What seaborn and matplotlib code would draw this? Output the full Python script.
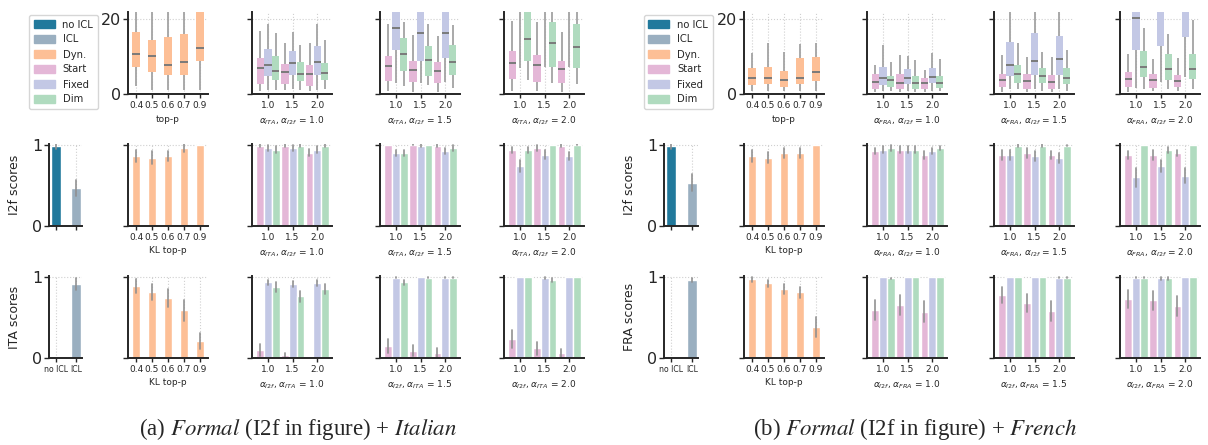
import numpy as np
import pandas as pd
import seaborn as sns
import matplotlib.pyplot as plt
from matplotlib.patches import Patch

# categories
methods = ['Start', 'Fixed', 'Dim']
alphas = ['1.0', '1.5', '2.0']
top_p = ['0.4', '0.5', '0.6', '0.7', '0.9']
icl_labels = ['no ICL', 'ICL']

# box stats: [whisker low, q1, median, q3, whisker high]
ita_box_dyn = [[2.1, 7.3, 10.8, 16.7, 30], [1.2, 6.0, 10.1, 14.6, 30], [1.1, 5.1, 7.9, 15.4, 30],
               [1.1, 5.2, 8.5, 16.0, 30], [1.1, 8.8, 12.4, 24, 35]]
# rows = alpha tick (1.0, 1.5, 2.0), cols = Start, Fixed, Dim
ita_box_a10 = [[[0.9, 2.7, 7.1, 9.6, 17.0], [1.1, 4.8, 7.9, 12.2, 18.9], [1.1, 3.8, 6.3, 10.2, 16.3]],
               [[1.1, 2.7, 6.0, 8.0, 13.8], [1.3, 5.1, 8.2, 11.6, 16.7], [1.1, 3.5, 5.4, 8.7, 13.1]],
               [[0.9, 2.1, 5.4, 7.9, 13.8], [1.1, 5.1, 8.6, 12.9, 18.8], [1.3, 3.8, 5.7, 8.2, 14.5]]]
ita_box_a15 = [[[0.9, 3.4, 7.6, 10.2, 18.8], [3.0, 11.8, 17.6, 26, 32], [2.1, 6.3, 10.6, 15.1, 19.4]],
               [[0.6, 3.3, 6.4, 8.8, 15.8], [3.0, 8.8, 16.3, 25, 32], [2.4, 4.9, 9.0, 12.9, 18.9]],
               [[0.6, 3.0, 6.1, 8.6, 15.5], [3.3, 9.6, 16.4, 25, 32], [1.5, 5.1, 8.6, 13.1, 18.5]]]
ita_box_a20 = [[[0.9, 3.9, 8.4, 11.5, 19.6], [6.9, 24, 28, 32, 40], [3.8, 8.8, 14.8, 23, 30]],
               [[0.9, 3.3, 7.9, 10.4, 19.4], [7.3, 24, 28, 32, 40], [3.0, 7.3, 13.8, 19.2, 30]],
               [[0.6, 3.0, 6.8, 8.8, 16.7], [7.3, 24, 28, 32, 40], [2.7, 7.1, 12.7, 18.9, 30]]]

fra_box_dyn = [[0.9, 2.4, 4.4, 6.9, 10.9], [0.9, 2.7, 4.2, 7.3, 13.8], [0.9, 2.0, 3.8, 6.2, 11.3],
               [0.9, 2.7, 4.4, 9.6, 13.4], [0.9, 3.5, 6.0, 9.8, 13.8]]
fra_box_a10 = [[[0.6, 1.3, 3.2, 5.4, 7.8], [0.9, 2.4, 4.4, 7.3, 13.1], [0.9, 2.0, 3.8, 4.8, 8.7]],
               [[0.6, 1.4, 3.0, 5.4, 10.4], [0.9, 2.6, 4.2, 6.6, 10.2], [0.6, 1.4, 3.0, 4.8, 9.1]],
               [[0.6, 1.4, 3.0, 4.2, 6.4], [0.9, 2.9, 4.6, 6.9, 10.9], [0.9, 1.5, 3.0, 4.8, 9.3]]]
fra_box_a15 = [[[0.6, 1.8, 3.8, 5.5, 10.4], [1.3, 4.8, 7.9, 14.0, 30], [1.3, 2.9, 5.3, 7.8, 13.8]],
               [[0.6, 1.4, 3.5, 5.3, 9.8], [1.3, 5.0, 8.9, 16.4, 30], [0.9, 2.9, 4.8, 6.9, 11.2]],
               [[0.6, 1.4, 3.2, 5.1, 10.0], [1.3, 5.1, 9.4, 15.5, 30], [0.9, 2.6, 4.4, 7.1, 11.8]]]
fra_box_a20 = [[[0.6, 1.8, 3.9, 6.0, 10.7], [1.5, 11.8, 20.3, 26, 32], [1.3, 4.6, 7.3, 11.5, 17.6]],
               [[0.9, 1.7, 3.8, 5.4, 9.3], [3.3, 12.9, 23, 28, 34], [1.3, 3.8, 6.6, 10.6, 16.1]],
               [[0.9, 2.0, 3.6, 5.1, 9.6], [4.6, 15.4, 24, 28, 34], [1.3, 4.0, 6.6, 10.7, 19.8]]]

# bar scores and half-width of error bars
ita_i2f_icl = [0.98, 0.47]
ita_i2f_icl_err = [0.03, 0.1]
ita_i2f_dyn = [0.86, 0.84, 0.86, 0.96, 1.0]
ita_i2f_dyn_err = [0.075, 0.08, 0.06, 0.045, 0.0]
ita_i2f_a10 = [[0.99, 0.96, 0.94], [0.99, 0.96, 0.99], [0.905, 0.94, 0.99]]
ita_i2f_a10_err = [[0.02, 0.035, 0.04], [0.015, 0.035, 0.02], [0.04, 0.04, 0.02]]
ita_i2f_a15 = [[1.0, 0.9, 0.9], [1.0, 0.99, 1.0], [0.99, 0.92, 0.96]]
ita_i2f_a15_err = [[0.0, 0.04, 0.04], [0.005, 0.015, 0.0], [0.015, 0.035, 0.035]]
ita_i2f_a20 = [[0.94, 0.74, 0.94], [0.96, 0.88, 1.0], [0.99, 0.86, 1.0]]
ita_i2f_a20_err = [[0.035, 0.07, 0.035], [0.035, 0.05, 0.0], [0.02, 0.05, 0.005]]

ita_lang_icl = [0.0, 0.91]
ita_lang_icl_err = [0.0, 0.075]
ita_lang_dyn = [0.885, 0.81, 0.74, 0.59, 0.21]
ita_lang_dyn_err = [0.09, 0.1, 0.11, 0.13, 0.1]
ita_lang_a10 = [[0.1, 0.93, 0.87], [0.035, 0.91, 0.76], [0.0, 0.92, 0.85]]
ita_lang_a10_err = [[0.07, 0.035, 0.06], [0.03, 0.04, 0.07], [0.0, 0.035, 0.06]]
ita_lang_a15 = [[0.15, 0.99, 0.93], [0.09, 1.0, 0.99], [0.06, 0.99, 0.99]]
ita_lang_a15_err = [[0.09, 0.01, 0.035], [0.07, 0.0, 0.01], [0.06, 0.01, 0.01]]
ita_lang_a20 = [[0.23, 1.0, 1.0], [0.12, 0.985, 0.96], [0.06, 1.0, 1.0]]
ita_lang_a20_err = [[0.11, 0.0, 0.0], [0.08, 0.01, 0.03], [0.05, 0.0, 0.0]]

fra_i2f_icl = [0.98, 0.535]
fra_i2f_icl_err = [0.03, 0.1]
fra_i2f_dyn = [0.86, 0.84, 0.9, 0.9, 1.0]
fra_i2f_dyn_err = [0.07, 0.07, 0.06, 0.06, 0.0]
fra_i2f_a10 = [[0.925, 0.94, 0.96], [0.94, 0.94, 0.94], [0.875, 0.925, 0.96]]
fra_i2f_a10_err = [[0.04, 0.04, 0.035], [0.04, 0.04, 0.04], [0.05, 0.04, 0.03]]
fra_i2f_a15 = [[0.875, 0.875, 0.99], [0.9, 0.865, 0.99], [0.875, 0.84, 0.99]]
fra_i2f_a15_err = [[0.06, 0.06, 0.015], [0.06, 0.06, 0.015], [0.05, 0.06, 0.01]]
fra_i2f_a20 = [[0.875, 0.6, 1.0], [0.875, 0.74, 0.94], [0.9, 0.62, 1.0]]
fra_i2f_a20_err = [[0.05, 0.12, 0.0], [0.06, 0.07, 0.035], [0.04, 0.09, 0.0]]

fra_lang_icl = [0.0, 0.96]
fra_lang_icl_err = [0.0, 0.03]
fra_lang_dyn = [0.97, 0.92, 0.85, 0.81, 0.38]
fra_lang_dyn_err = [0.03, 0.04, 0.06, 0.07, 0.12]
fra_lang_a10 = [[0.59, 1.0, 0.98], [0.65, 1.0, 1.0], [0.57, 1.0, 1.0]]
fra_lang_a10_err = [[0.12, 0.0, 0.01], [0.12, 0.0, 0.0], [0.13, 0.0, 0.0]]
fra_lang_a15 = [[0.775, 1.0, 1.0], [0.68, 1.0, 1.0], [0.58, 0.99, 0.99]]
fra_lang_a15_err = [[0.1, 0.0, 0.0], [0.11, 0.0, 0.0], [0.12, 0.005, 0.005]]
fra_lang_a20 = [[0.725, 0.99, 0.99], [0.71, 0.98, 0.98], [0.64, 1.0, 1.0]]
fra_lang_a20_err = [[0.11, 0.005, 0.005], [0.12, 0.02, 0.02], [0.12, 0.0, 0.0]]

c_noicl = '#21799c'
c_icl = '#9aafc0'
c_dyn = '#fdbf96'
pal_steer = ['#e4b7d7', '#c3c8e5', '#b0dbbf']

sns.set_style('ticks')
plt.rcParams['font.family'] = ['DejaVu Sans']

W, H = 1208, 445
fig = plt.figure(figsize=(W / 100, H / 100), dpi=100)


def add(xr, yr):
    return fig.add_axes([xr[0] / W, 1 - yr[1] / H, (xr[1] - xr[0]) / W, (yr[1] - yr[0]) / H])


def box_frame(stats, cats, hues=None):
    recs = []
    for i, c in enumerate(cats):
        boxes = stats[i] if hues else [stats[i]]
        for j, b in enumerate(boxes):
            for v in b:
                recs.append({'x': c, 'y': v, 'm': hues[j] if hues else 'Dyn.'})
    return pd.DataFrame(recs)


def bar_frame(vals, errs, cats, hues=None):
    recs = []
    for i, c in enumerate(cats):
        vs = vals[i] if hues else [vals[i]]
        es = errs[i] if hues else [errs[i]]
        for j, (v, e) in enumerate(zip(vs, es)):
            for y in (v - e, v + e):
                recs.append({'x': c, 'y': y, 'm': hues[j] if hues else c})
    return pd.DataFrame(recs)


def draw_box(ax, df, steer):
    kw = dict(data=df, x='x', y='y', whis=(0, 100), showcaps=False, fliersize=0, saturation=1,
              linecolor='#a3a3a3', linewidth=1.3, medianprops=dict(color='#7a7a7a', linewidth=1.4), ax=ax)
    if steer:
        sns.boxplot(hue='m', hue_order=methods, palette=pal_steer, width=0.92, gap=0.03, legend=False, **kw)
    else:
        sns.boxplot(color=c_dyn, width=0.55, **kw)
    for p in ax.patches:
        p.set_edgecolor('none')


err_kws = dict(color='#8f8f8f', linewidth=1.3, alpha=0.9)


def draw_bar(ax, df, kind):
    kw = dict(data=df, x='x', y='y', errorbar=('pi', 100), saturation=1, err_kws=err_kws, ax=ax)
    if kind == 'icl':
        sns.barplot(hue='x', palette=[c_noicl, c_icl], width=0.5, legend=False, **kw)
    elif kind == 'dyn':
        sns.barplot(color=c_dyn, width=0.5, **kw)
    else:
        sns.barplot(hue='m', hue_order=methods, palette=pal_steer, width=0.95, legend=False, **kw)


def finish(ax, ylim, yticks, xlim, ylabels=False, xlabels=True, xsize=6.5):
    ax.set_ylim(*ylim)
    ax.set_yticks(yticks)
    ax.set_xlim(*xlim)
    ax.grid(True, ls=':', lw=0.8, color='#d0d0d0')
    ax.set_axisbelow(True)
    sns.despine(ax=ax)
    for s in ['left', 'bottom']:
        ax.spines[s].set_linewidth(1.4)
        ax.spines[s].set_color('#262626')
    ax.tick_params(axis='x', labelsize=xsize, length=3, width=1, pad=2, labelbottom=xlabels, color='#262626')
    ax.tick_params(axis='y', labelsize=11.5, length=3.5, width=1, pad=1.5, labelleft=ylabels, color='#262626')
    ax.set_xlabel('')
    ax.set_ylabel('')


sides = [
    dict(cols=[(49, 82), (128, 208), (252, 332), (380, 460), (504, 584)], lang='ITA',
         box_dyn=ita_box_dyn, box_steer=[ita_box_a10, ita_box_a15, ita_box_a20],
         i2f=[ita_i2f_icl, ita_i2f_dyn, ita_i2f_a10, ita_i2f_a15, ita_i2f_a20],
         i2f_err=[ita_i2f_icl_err, ita_i2f_dyn_err, ita_i2f_a10_err, ita_i2f_a15_err, ita_i2f_a20_err],
         lng=[ita_lang_icl, ita_lang_dyn, ita_lang_a10, ita_lang_a15, ita_lang_a20],
         lng_err=[ita_lang_icl_err, ita_lang_dyn_err, ita_lang_a10_err, ita_lang_a15_err, ita_lang_a20_err],
         cap=r'(a) $\mathit{Formal}$ (I2f in figure) + $\mathit{Italian}$', cx=298),
    dict(cols=[(664, 698), (744, 824), (867, 947), (994, 1074), (1120, 1200)], lang='FRA',
         box_dyn=fra_box_dyn, box_steer=[fra_box_a10, fra_box_a15, fra_box_a20],
         i2f=[fra_i2f_icl, fra_i2f_dyn, fra_i2f_a10, fra_i2f_a15, fra_i2f_a20],
         i2f_err=[fra_i2f_icl_err, fra_i2f_dyn_err, fra_i2f_a10_err, fra_i2f_a15_err, fra_i2f_a20_err],
         lng=[fra_lang_icl, fra_lang_dyn, fra_lang_a10, fra_lang_a15, fra_lang_a20],
         lng_err=[fra_lang_icl_err, fra_lang_dyn_err, fra_lang_a10_err, fra_lang_a15_err, fra_lang_a20_err],
         cap=r'(b) $\mathit{Formal}$ (I2f in figure) + $\mathit{French}$', cx=915),
]
rows = [(12, 94), (144, 226), (276, 358)]
alpha_vals = ['1.0', '1.5', '2.0']
xl_icl, xl_dyn, xl_st = (-0.35, 1.3), (-0.5, 4.5), (-0.65, 2.6)
xfs = 6.5

for sd in sides:
    L = sd['lang']
    # row 0: lengths box plots
    ax = add(sd['cols'][1], rows[0])
    draw_box(ax, box_frame(sd['box_dyn'], top_p), False)
    finish(ax, (0, 22), [0, 20], xl_dyn, ylabels=True)
    ax.set_xlabel('top-p', fontsize=xfs, labelpad=4)
    for k in range(3):
        ax = add(sd['cols'][k + 2], rows[0])
        draw_box(ax, box_frame(sd['box_steer'][k], alphas, methods), True)
        finish(ax, (0, 22), [0, 20], xl_st)
        ax.set_xlabel(r'$\alpha_{%s}$, $\alpha_{I2f}$ = %s' % (L, alpha_vals[k]), fontsize=xfs, labelpad=3)

    # rows 1-2: scores
    for r, key, name in [(1, 'i2f', 'I2f'), (2, 'lng', L)]:
        vals, errs = sd[key], sd[key + '_err']
        ax = add(sd['cols'][0], rows[r])
        draw_bar(ax, bar_frame(vals[0], errs[0], icl_labels), 'icl')
        finish(ax, (0, 1.01), [0, 1], xl_icl, ylabels=True, xlabels=(r == 2), xsize=5.6)
        ax.set_ylabel('%s scores' % name, fontsize=9, labelpad=8)
        ax = add(sd['cols'][1], rows[r])
        draw_bar(ax, bar_frame(vals[1], errs[1], top_p), 'dyn')
        finish(ax, (0, 1.01), [0, 1], xl_dyn)
        ax.set_xlabel('KL top-p', fontsize=xfs, labelpad=3)
        for k in range(3):
            ax = add(sd['cols'][k + 2], rows[r])
            draw_bar(ax, bar_frame(vals[k + 2], errs[k + 2], alphas, methods), 'steer')
            finish(ax, (0, 1.01), [0, 1], xl_st)
            if r == 1:
                lab = r'$\alpha_{%s}$, $\alpha_{I2f}$ = %s' % (L, alpha_vals[k])
            else:
                lab = r'$\alpha_{I2f}$, $\alpha_{%s}$ = %s' % (L, alpha_vals[k])
            ax.set_xlabel(lab, fontsize=xfs, labelpad=3)

    fig.text(sd['cx'] / W, 1 - 429 / H, sd['cap'], ha='center', va='center', fontsize=16.5,
             family='Liberation Serif', math_fontfamily='stix')

    handles = [Patch(color=c) for c in [c_noicl, c_icl, c_dyn] + pal_steer]
    labels = ['no ICL', 'ICL', 'Dyn.'] + methods
    x0 = sd['cols'][0][0] - 20
    fig.legend(handles, labels, loc='upper left', bbox_to_anchor=(x0 / W, 1 - 15 / H), fontsize=7.2,
               handlelength=2.1, handleheight=0.9, labelspacing=0.5, borderpad=0.45, borderaxespad=0,
               handletextpad=0.8, frameon=True, edgecolor='#cccccc', fancybox=True)

fig.savefig('out.png', dpi=100)
